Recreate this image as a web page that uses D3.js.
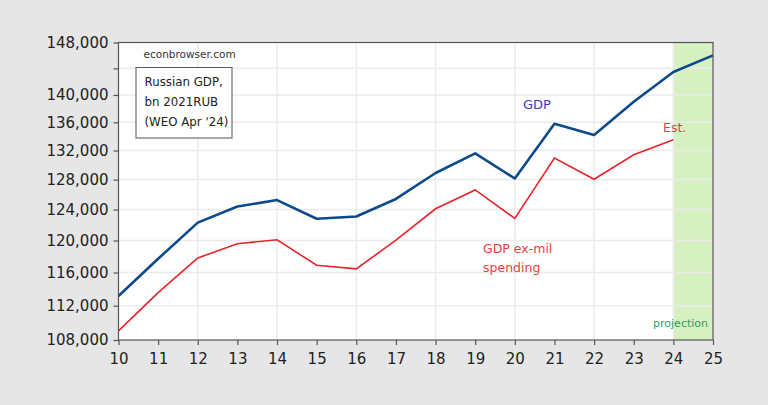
<!DOCTYPE html>
<html><head><meta charset="utf-8">
<script src="https://cdn.jsdelivr.net/npm/d3@7"></script>
<style>body{margin:0;background:#e6e6e6}svg{display:block}</style>
</head><body>
<svg id="c" width="768" height="405"></svg>
<script>
const years = [10,11,12,13,14,15,16,17,18,19,20,21,22,23,24,25];
const gdp = [113150,117700,122300,124400,125250,122800,123100,125400,128900,131600,128150,135800,134200,139000,143450,146000];
const gdpExMil = [109050,113550,117800,119600,120100,116900,116450,120050,124100,126600,122850,130950,128050,131400,133500];
const yTicks = [108000,112000,116000,120000,124000,128000,132000,136000,140000,144000,148000];
const yTickLabels = ["108,000","112,000","116,000","120,000","124,000","128,000","132,000","136,000","140,000","","148,000"];
const xTickLabels = ["10","11","12","13","14","15","16","17","18","19","20","21","22","23","24","25"];
const projection = [24,25];

const svg = d3.select("#c");
const L=118.5, R=713, T=42.5, B=340;
const x = d3.scaleLinear().domain([10,25]).range([L,R]);
const y = d3.scaleLog().domain([108000,148000]).range([B,T]);
const font = "DejaVu Sans, sans-serif";

svg.append("rect").attr("x",L).attr("y",T).attr("width",R-L).attr("height",B-T).attr("fill","#fff");
svg.append("rect").attr("x",x(projection[0])).attr("y",T).attr("width",x(projection[1])-x(projection[0])).attr("height",B-T).attr("fill","#d6f0c2");

// grid
svg.append("g").selectAll("line").data(yTicks.slice(1,-1)).join("line")
  .attr("x1",L).attr("x2",R).attr("y1",d=>y(d)).attr("y2",d=>y(d))
  .attr("stroke","#ebebeb").attr("stroke-width",1.5);
svg.append("g").selectAll("line").data(years.filter(d=>d%2===0 && d>10 && d<25)).join("line")
  .attr("x1",d=>x(d)).attr("x2",d=>x(d)).attr("y1",T).attr("y2",B)
  .attr("stroke","#ebebeb").attr("stroke-width",1.5);

// lines
const line = d3.line().x((d,i)=>x(years[i])).y(d=>y(d));
svg.append("path").datum(gdpExMil).attr("d",line).attr("fill","none").attr("stroke","#e8232a").attr("stroke-width",1.6);
svg.append("path").datum(gdp).attr("d",line).attr("fill","none").attr("stroke","#0d4a8a").attr("stroke-width",2.6).attr("stroke-linejoin","round");

// frame
svg.append("rect").attr("x",L).attr("y",T).attr("width",R-L).attr("height",B-T).attr("fill","none").attr("stroke","#555").attr("stroke-width",1.2);

// axes
const yAxis = d3.axisLeft(y).tickValues(yTicks).tickFormat((d,i)=>yTickLabels[i]).tickSize(5).tickPadding(5);
const gy = svg.append("g").attr("transform",`translate(${L},0)`).call(yAxis);
const xAxis = d3.axisBottom(x).tickValues(years).tickFormat((d,i)=>xTickLabels[i]).tickSize(5).tickPadding(8);
const gx = svg.append("g").attr("transform",`translate(0,${B})`).call(xAxis);
[gy,gx].forEach(g=>{
  g.select(".domain").remove();
  g.selectAll(".tick line").attr("stroke","#555").attr("stroke-width",1.2);
  g.selectAll("text").attr("font-family",font).attr("font-size",15).attr("fill","#222");
});

// annotations
svg.append("text").attr("x",143.5).attr("y",57.5).text("econbrowser.com").attr("font-family",font).attr("font-size",10.5).attr("fill","#333");
svg.append("rect").attr("x",136).attr("y",67.5).attr("width",96).attr("height",70.5).attr("fill","#fff").attr("stroke","#555").attr("stroke-width",1);
["Russian GDP,","bn 2021RUB","(WEO Apr '24)"].forEach((t,i)=>{
  svg.append("text").attr("x",144.5).attr("y",85.5+i*20).text(t).attr("font-family",font).attr("font-size",11.8).attr("fill","#222");
});
svg.append("text").attr("x",523).attr("y",109).text("GDP").attr("font-family",font).attr("font-size",13).attr("fill","#3a3ac4");
svg.append("text").attr("x",663).attr("y",131.5).text("Est.").attr("font-family",font).attr("font-size",12.5).attr("fill","#e84040");
svg.append("text").attr("x",483).attr("y",252.5).text("GDP ex-mil").attr("font-family",font).attr("font-size",12.5).attr("fill","#e84040");
svg.append("text").attr("x",483).attr("y",271.5).text("spending").attr("font-family",font).attr("font-size",12.5).attr("fill","#e84040");
svg.append("text").attr("x",708).attr("y",327).attr("text-anchor","end").text("projection").attr("font-family",font).attr("font-size",11).attr("fill","#2e9e5a");
</script>
</body></html>
